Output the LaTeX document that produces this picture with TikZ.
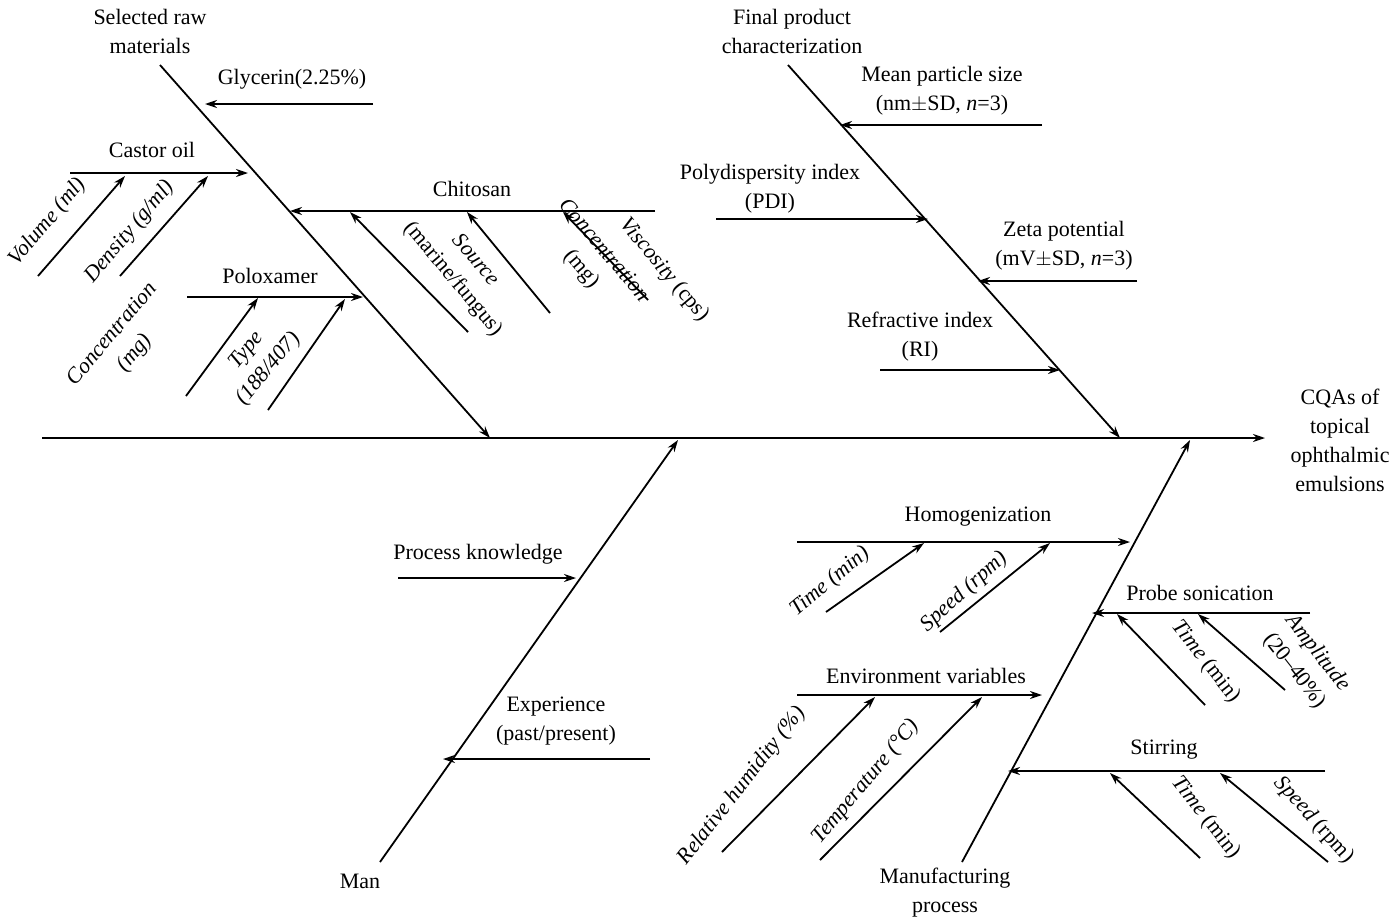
\documentclass[tikz,border=0pt]{standalone}
\usepackage{fontspec}
\setmainfont{Liberation Serif}
\usetikzlibrary{arrows.meta}
\begin{document}
\begin{tikzpicture}[x=1pt,y=-1pt,
  ln/.style={line width=1.8pt,-{Stealth[length=12pt,width=8pt]}},
  lab/.style={font=\fontsize{22}{29}\selectfont,align=center,inner sep=1pt},
  ilab/.style={lab,font=\fontsize{22}{29}\selectfont\itshape}]
\useasboundingbox (0,0) rectangle (1396,921);
% spine
\coordinate (s0) at (42,438); \coordinate (s1) at (1265,438);
\draw[ln] (s0) -- (s1);
\node[lab] (cqa) at (1340,440) {CQAs of\\topical\\ophthalmic\\emulsions};
% Selected raw materials
\coordinate (r0) at (160,65); \coordinate (r1) at (490,438);
\draw[ln] (r0) -- (r1);
\node[lab] (raw) at (150,31) {Selected raw\\materials};
\coordinate (g0) at (373,104); \coordinate (g1) at (205,104);
\draw[ln] (g0) -- (g1); \node[lab] (gly) at (292,79) {Glycerin(2.25\%)};
\coordinate (c0) at (70,173); \coordinate (c1) at (248,173);
\draw[ln] (c0) -- (c1); \node[lab] (cas) at (152,150) {Castor oil};
\coordinate (v0) at (38,276); \coordinate (v1) at (125,176); \draw[ln] (v0) -- (v1);
\node[ilab,rotate=50] (vol) at (48,222) {Volume (ml)};
\coordinate (d0) at (120,276); \coordinate (d1) at (208,176); \draw[ln] (d0) -- (d1);
\node[ilab,rotate=50] (den) at (130,232) {Density (g/ml)};
\coordinate (ch0) at (655,211); \coordinate (ch1) at (290,211);
\draw[ln] (ch0) -- (ch1); \node[lab] (chi) at (472,189) {Chitosan};
\coordinate (so0) at (468,332); \coordinate (so1) at (350,212); \draw[ln] (so0) -- (so1);
\node[lab,rotate=-50] (sou) at (464,270) {\itshape Source\\(marine/fungus)};
\coordinate (co0) at (550,313); \coordinate (co1) at (467,212); \draw[ln] (co0) -- (co1);
\node[lab,rotate=-50] (con) at (592,260) {\itshape Concentration\\(mg)};
\coordinate (vi0) at (648,300); \coordinate (vi1) at (563,212); \draw[ln] (vi0) -- (vi1);
\node[lab,rotate=-50] (vis) at (664,270) {\itshape Viscosity \upshape(cps)};
\coordinate (p0) at (187,297); \coordinate (p1) at (363,297);
\draw[ln] (p0) -- (p1); \node[lab] (pol) at (270,276) {Poloxamer};
\coordinate (pc0) at (186,396); \coordinate (pc1) at (258,298); \draw[ln] (pc0) -- (pc1);
\node[ilab,rotate=50] (pcon) at (124,344) {Concentration\\(mg)};
\coordinate (pt0) at (268,410); \coordinate (pt1) at (345,299); \draw[ln] (pt0) -- (pt1);
\node[ilab,rotate=50] (ptyp) at (258,360) {Type\\(188/407)};
% Final product
\coordinate (f0) at (788,65); \coordinate (f1) at (1120,438);
\draw[ln] (f0) -- (f1);
\node[lab] (fin) at (792,31) {Final product\\characterization};
\coordinate (m0) at (1042,125); \coordinate (m1) at (840,125);
\draw[ln] (m0) -- (m1); \node[lab] (mps) at (942,91) {Mean particle size\\(nm$\pm$SD, \textit{n}=3)};
\coordinate (pd0) at (716,219); \coordinate (pd1) at (928,219);
\draw[ln] (pd0) -- (pd1); \node[lab] (pdi) at (770,189) {Polydispersity index\\(PDI)};
\coordinate (z0) at (1137,281); \coordinate (z1) at (978,281);
\draw[ln] (z0) -- (z1); \node[lab] (zeta) at (1064,246) {Zeta potential\\(mV$\pm$SD, \textit{n}=3)};
\coordinate (ri0) at (880,370); \coordinate (ri1) at (1060,370);
\draw[ln] (ri0) -- (ri1); \node[lab] (ri) at (920,337) {Refractive index\\(RI)};
% Man
\coordinate (mn0) at (380,862); \coordinate (mn1) at (678,440);
\draw[ln] (mn0) -- (mn1);
\node[lab] (man) at (360,881) {Man};
\coordinate (pk0) at (398,578); \coordinate (pk1) at (576,578);
\draw[ln] (pk0) -- (pk1); \node[lab] (pk) at (478,554) {Process knowledge};
\coordinate (e0) at (650,759); \coordinate (e1) at (443,759);
\draw[ln] (e0) -- (e1); \node[lab] (exp) at (556,721) {Experience\\(past/present)};
% Manufacturing process
\coordinate (mp0) at (962,862); \coordinate (mp1) at (1190,440);
\draw[ln] (mp0) -- (mp1);
\node[lab] (mp) at (945,893) {Manufacturing\\process};
\coordinate (h0) at (797,542); \coordinate (h1) at (1130,542);
\draw[ln] (h0) -- (h1); \node[lab] (hom) at (978,517) {Homogenization};
\coordinate (ht0) at (826,612); \coordinate (ht1) at (924,543); \draw[ln] (ht0) -- (ht1);
\node[ilab,rotate=40] (htl) at (830,582) {Time (min)};
\coordinate (hs0) at (940,632); \coordinate (hs1) at (1050,543); \draw[ln] (hs0) -- (hs1);
\node[ilab,rotate=42] (hsl) at (964,592) {Speed (rpm)};
\coordinate (ps0) at (1310,613); \coordinate (ps1) at (1092,613);
\draw[ln] (ps0) -- (ps1); \node[lab] (pro) at (1200,593) {Probe sonication};
\coordinate (pst0) at (1205,705); \coordinate (pst1) at (1117,614); \draw[ln] (pst0) -- (pst1);
\node[lab,rotate=-52] (pstl) at (1206,662) {\itshape Time \upshape(min)};
\coordinate (psa0) at (1285,690); \coordinate (psa1) at (1198,614); \draw[ln] (psa0) -- (psa1);
\node[lab,rotate=-52] (psal) at (1306,662) {\itshape Amplitude\\(20–40\%)};
\coordinate (ev0) at (797,695); \coordinate (ev1) at (1042,695);
\draw[ln] (ev0) -- (ev1); \node[lab] (env) at (926,676) {Environment variables};
\coordinate (rh0) at (722,852); \coordinate (rh1) at (875,697); \draw[ln] (rh0) -- (rh1);
\node[ilab,rotate=52] (rhl) at (742,786) {Relative humidity (\%)};
\coordinate (te0) at (820,860); \coordinate (te1) at (982,697); \draw[ln] (te0) -- (te1);
\node[ilab,rotate=50] (tel) at (866,782) {Temperature (°C)};
\coordinate (st0) at (1325,771); \coordinate (st1) at (1008,771);
\draw[ln] (st0) -- (st1); \node[lab] (sti) at (1164,750) {Stirring};
\coordinate (stt0) at (1200,858); \coordinate (stt1) at (1110,773); \draw[ln] (stt0) -- (stt1);
\node[lab,rotate=-52] (sttl) at (1206,818) {\itshape Time \upshape(min)};
\coordinate (sts0) at (1328,862); \coordinate (sts1) at (1220,773); \draw[ln] (sts0) -- (sts1);
\node[lab,rotate=-48] (stsl) at (1314,820) {\itshape Speed \upshape(rpm)};
\end{tikzpicture}
\end{document}
